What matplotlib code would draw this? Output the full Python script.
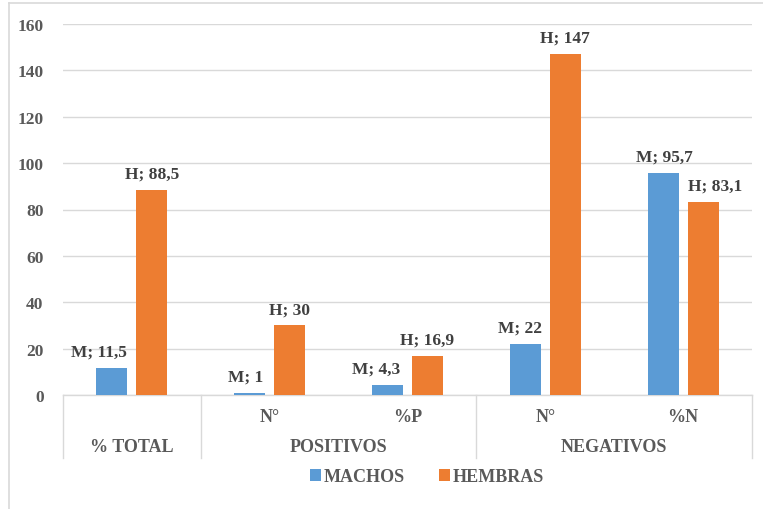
"""Bar chart: machos vs hembras, positivos / negativos."""

import matplotlib

matplotlib.use("Agg")
import matplotlib.pyplot as plt
import matplotlib.transforms as mtransforms
import numpy as np

# data
leaf_labels = ["", "N°", "%P", "N°", "%N"]
group_labels = ["% TOTAL", "POSITIVOS", "NEGATIVOS"]
group_spans = [(0, 0), (1, 2), (3, 4)]
machos = [11.5, 1, 4.3, 22, 95.7]
hembras = [88.5, 30, 16.9, 147, 83.1]
machos_text = ["M; 11,5", "M; 1", "M; 4,3", "M; 22", "M; 95,7"]
hembras_text = ["H; 88,5", "H; 30", "H; 16,9", "H; 147", "H; 83,1"]
y_ticks = [0, 20, 40, 60, 80, 100, 120, 140, 160]

# label nudges (points), mimic Excel's overlap avoidance
m_nudge = [-9, -3, -8, -4, 1]
h_nudge = [0, 0, 0, 0, 9]

BLUE = "#5B9BD5"
ORANGE = "#ED7D31"
GRID = "#D9D9D9"
TICK_COLOR = "#595959"
LABEL_COLOR = "#404040"

plt.rcParams["font.family"] = ["Liberation Serif", "DejaVu Serif"]
plt.rcParams["font.weight"] = "bold"

W, H = 763, 510
fig = plt.figure(figsize=(W / 100, H / 100), dpi=100)

left, right, bottom, top = 63, 752, 396, 25
ax = fig.add_axes([left / W, 1 - bottom / H, (right - left) / W, (bottom - top) / H])

x = np.arange(len(machos))
width = 0.225
offset = 0.145
bars_m = ax.bar(x - offset, machos, width, color=BLUE, label="MACHOS", zorder=3)
bars_h = ax.bar(x + offset, hembras, width, color=ORANGE, label="HEMBRAS", zorder=3)

for bar, txt, dx in zip(bars_m, machos_text, m_nudge):
    ax.annotate(txt, (bar.get_x() + bar.get_width() / 2, bar.get_height()),
                xytext=(dx, 6), textcoords="offset points", ha="center", va="bottom",
                fontsize=12.5, fontweight="bold", color=LABEL_COLOR)
for bar, txt, dx in zip(bars_h, hembras_text, h_nudge):
    ax.annotate(txt, (bar.get_x() + bar.get_width() / 2, bar.get_height()),
                xytext=(dx, 6), textcoords="offset points", ha="center", va="bottom",
                fontsize=12.5, fontweight="bold", color=LABEL_COLOR)

ax.set_xlim(-0.5, len(machos) - 0.5)
ax.set_ylim(0, 160)
ax.set_yticks(y_ticks)
ax.tick_params(axis="y", length=0, pad=14, labelsize=12.5, labelcolor=TICK_COLOR)
ax.set_xticks([])
for lbl in ax.get_yticklabels():
    lbl.set_fontweight("bold")
ax.grid(axis="y", color=GRID, linewidth=1, zorder=0)
for side in ["left", "right", "top"]:
    ax.spines[side].set_visible(False)
ax.spines["bottom"].set_color(GRID)
ax.spines["bottom"].set_linewidth(1)

# multi-level category axis
trans = mtransforms.blended_transform_factory(ax.transData, ax.transAxes)
axes_h = bottom - top
sep_low = -63 / axes_h
leaf_y = -22 / axes_h
group_y = -52 / axes_h

for xi, lab in zip(x, leaf_labels):
    if lab:
        ax.text(xi, leaf_y, lab, transform=trans, ha="center", va="center",
                fontsize=13, fontweight="bold", color=TICK_COLOR)
for (a, b), lab in zip(group_spans, group_labels):
    ax.text((a + b) / 2, group_y, lab, transform=trans, ha="center", va="center",
            fontsize=13, fontweight="bold", color=TICK_COLOR)
    ax.plot([a - 0.5, a - 0.5], [0, sep_low], transform=trans, color=GRID,
            linewidth=1, clip_on=False)
ax.plot([len(machos) - 0.5] * 2, [0, sep_low], transform=trans, color=GRID,
        linewidth=1, clip_on=False)

fig.legend(handles=[bars_m, bars_h], loc="center", bbox_to_anchor=(427 / W, 1 - 478 / H),
           ncol=2, frameon=False, handlelength=0.6, handleheight=0.6, handletextpad=0.15,
           columnspacing=1.9, prop={"size": 13, "weight": "bold"}, labelcolor=TICK_COLOR)

# chart border (only top and left visible in the crop)
fig.add_artist(plt.Line2D([9 / W, 9 / W], [0, 1 - 4 / H], color=GRID, linewidth=1.2))
fig.add_artist(plt.Line2D([9 / W, 1], [1 - 4 / H, 1 - 4 / H], color=GRID, linewidth=1.2))

fig.savefig("out.png", dpi=100)
